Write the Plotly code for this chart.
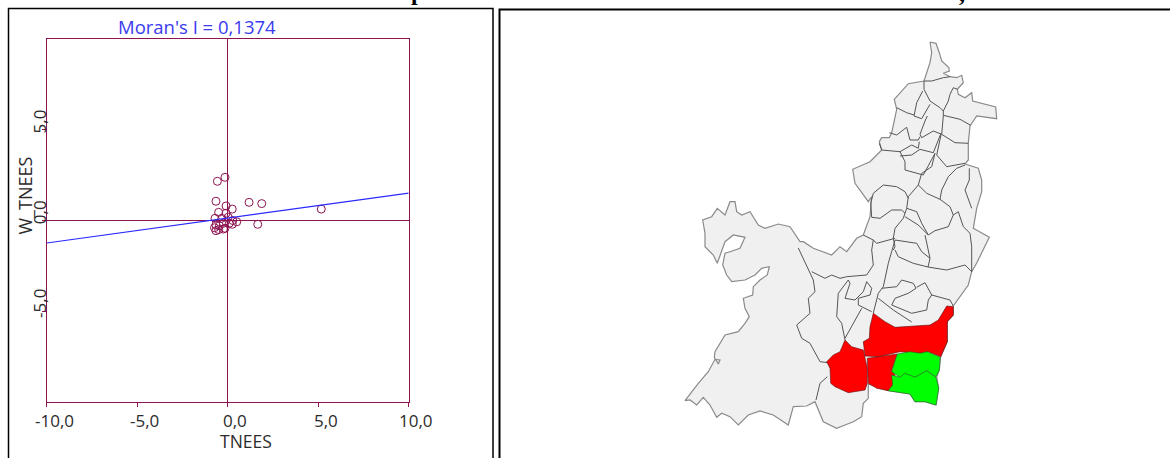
import plotly.graph_objects as go

W, H = 1170, 458
# --- Moran scatter data (TNEES vs W_TNEES) ---
TNEES = [-0.57,-0.15,-0.65,-0.09,0.25,1.18,1.88,5.17,1.66,-0.5,0.5,0.25,-0.7,-0.65,-0.65,-0.46,-0.24,-0.15,0.09,0.03,-0.33,-0.09,-0.5,-0.24,0.28,-0.73]
W_TNEES = [2.16,2.38,1.06,0.80,0.63,1.0,0.93,0.63,-0.21,0.45,-0.07,-0.21,0.12,-0.25,-0.56,-0.29,-0.15,-0.43,-0.15,0.18,0.12,0.4,-0.5,-0.47,0.0,-0.4]
REG_X = [-10, 10]
REG_Y = [-1.24, 1.51]
X_TICKS = [-10, -5, 0, 5, 10]
X_LABELS = ["-10,0", "-5,0", "0,0", "5,0", "10,0"]
Y_TICKS = [-5, 0, 5]
Y_LABELS = ["-5,0", "0,0", "5,0"]

# --- Map geometry (map units) ---
OUTLINE = [(930,42),(936,43.3),(939.3,52.7),(941.7,61),(949,67.7),(949.3,71),(943.3,73.3),(950,76.7),(956.7,77.7),(961.7,75.3),(963.3,82.7),(957.3,89.3),(958.3,94.3),(965,97.7),(971.7,92.7),(972.7,101),(995.7,107),(996.7,118.7),(976.7,116),(970,126),(968.3,142.7),(968.3,150),(968.3,160),(965,164),(978.3,168.3),(981.7,180),(981.7,191.7),(976.7,208.3),(973.3,228.3),(989.3,237.3),(983.3,250),(976.7,263),(971.7,271.7),(968.3,285),(953.3,306),(953.3,315),(947.3,321.7),(947.3,341.7),(940.7,356.7),(939.3,370),(936.7,377.3),(938.7,388.3),(936,405),(925,401.7),(915,401.7),(910,394),(888.3,390.7),(868.3,384),(868.3,398.3),(863.3,403.3),(861.7,416.7),(853.3,421.7),(845,425),(836.7,428.3),(823.3,421.7),(820,413.3),(815,401.7),(806.7,406),(793.3,406.7),(788.3,425),(780,419.3),(773.3,415),(760,411),(748.3,415),(738.3,425),(730,416.7),(721.7,413.3),(716.7,417.3),(710,405),(703.3,397.3),(696.7,405),(690,400),(685,400.7),(698.3,383.3),(708.3,371.7),(715,359.3),(720,360),(718.3,364),(714.3,357.3),(715,351.7),(725,335),(738.3,331.7),(745,323.3),(749.3,316.7),(745,308.3),(743.3,298.3),(752.7,295),(753.3,286.7),(760,280),(767.3,275),(769.3,266.7),(761.7,268.3),(755,275),(745,280),(731.7,281.7),(726.7,275),(722.7,265),(725,253.3),(730,251.7),(740,248.3),(745,237.3),(733.3,235),(725,241.7),(721.7,251.7),(717.3,263.3),(713.3,255),(705,246.7),(705,233.3),(702.7,220),(711.7,216.7),(717.3,208.3),(725,215),(730,201.7),(735,201.7),(736.7,211.7),(741.7,215),(750,211.7),(758.3,225),(765,228.3),(778.3,224),(790,226.7),(800,241.7),(803.3,241.7),(813.3,248.3),(831.7,255),(840,246.7),(846.7,251.7),(856.7,238.3),(863.3,235),(870,216.7),(871.7,196.7),(868.3,201.7),(855,183.3),(852.7,169.3),(870,161.7),(881.7,150),(879.3,141.7),(881.7,137.7),(889.3,137.7),(891.7,132.7),(896.7,109.3),(894.3,99.3),(908.3,83.7),(924,81),(930,62.7),(931.7,52.7)]

BORDERS = [
 [(924,81),(931.7,81),(943.3,77.7),(950,76.7)],
 [(924,81),(924,89.3),(930,101),(940,107.7),(943.3,111)],
 [(957.3,89.3),(953.3,87.7),(950,94.3),(948.3,101),(943.3,111),(943.3,116)],
 [(922.7,91),(916.7,102.7),(914,116),(921.7,118.7),(930,104.3)],
 [(896.7,107.7),(906.7,112.7),(914,115)],
 [(943.3,115.3),(960,119.3),(970.7,125.3)],
 [(927.3,116),(925,121),(920,134.3),(921.7,137.7),(933.3,131),(941.7,134.3),(943.3,116)],
 [(941.7,134.3),(955,142.7),(968.3,143.3)],
 [(889.3,132.7),(896.7,135),(906.7,127.3),(910,140),(918.3,140),(920,136.7)],
 [(879.3,143.3),(881.7,150),(900,151.7),(911.7,145),(918.3,148.3),(919.3,141.7)],
 [(900,151.7),(905,161.7),(905,170),(923.3,175),(935,153.3)],
 [(900,156),(911.7,155),(920,149.3),(933.3,152.7),(941,133.3)],
 [(941,135),(936.7,155),(946.7,166.7),(965,163.3)],
 [(935,153.3),(931.7,166.7),(921.7,173.3),(918.3,185),(908.3,196.7),(906.7,208.3),(903.3,218.3),(895,228.3),(893.3,238.3),(895,246.7),(893.3,250)],
 [(918.3,185),(926.7,193.3),(940,199.3),(950,206.7),(953.3,215),(948.3,226.7),(935,230.7),(928.3,235),(921.7,223.3),(916.7,211.7),(906.7,208.3)],
 [(905,216.7),(918.3,225),(928.3,235)],
 [(940,199.3),(941.7,190),(948.3,176.7),(956.7,168.3),(965,165)],
 [(969.3,168.3),(969.3,180),(965,190),(970,203.3),(971.7,208.3)],
 [(953.3,215),(958.3,211.7),(963.3,226.7),(970,233.3),(971.7,246.7),(972,262),(971.7,271.7)],
 [(883.3,185),(873.3,193.3),(870.7,203.3),(871.7,217.3),(880,218.3),(891.7,210),(901.7,210),(905,213.3)],
 [(883.3,185),(896.7,186.7),(905,191.7),(908.3,198.3)],
 [(863.3,235),(873.3,240),(876.7,243.3),(888.3,240),(895,238.3)],
 [(873.3,240),(871.7,250),(873.3,265),(866.7,275),(846.7,276.7),(840,278.3),(831.7,275),(825,278.3),(811.7,271.7)],
 [(798.3,248),(813.3,280),(815,291.7),(808.3,298.3),(810,313.3),(796.7,325),(801.7,338.3),(810,343.3),(820,361.7),(828.3,362.7)],
 [(827.3,376.7),(820,383.3),(816,400)],
 [(848.3,280),(838.3,293.3),(836.7,316.7),(841.7,323.3),(845,340)],
 [(848.3,280),(850,283.3),(845,298.3),(855,300),(863.3,291.7),(866.7,281.7),(871.7,288.3),(870,295),(858.3,298.3),(858.3,305),(871.7,311.7)],
 [(861.7,308.3),(853.3,323.3),(845,338.3)],
 [(895,240),(888.3,263.3),(883.3,286.7),(878.3,293.3),(873.3,313)],
 [(895,240),(916.7,243.3),(921.7,251.7),(930,258.3),(928,267),(913.3,263.3),(898.3,256.7),(895,250)],
 [(930,258.3),(925,235)],
 [(928,267),(946.7,270),(965,265),(971.7,271.7)],
 [(881.7,288.3),(896.7,286.7),(901.7,280),(913.3,283.3),(916,288.3),(908.3,293.3),(895,298.3),(891.7,305),(911.7,313.3),(926.7,310),(928.3,300),(931.7,295),(925,282.7),(916.7,287.3)],
 [(931.7,295),(950,300),(953.3,306)],
 [(878.3,298.3),(893.3,310),(911.7,322)],
]

RED_EAST = [(873.3,313.3),(885,321.7),(895,327.3),(930,325),(938.3,320),(946.7,306),(953.3,306.7),(953.3,315),(947.3,321.7),(947.3,341.7),(940.7,356.7),(928.3,351.7),(920,353.3),(900,351.7),(878.3,356.7),(865,356),(863.3,341.7),(869.3,338.3),(870,326.7)]
RED_WEST = [(845,340),(851.7,346.7),(863.3,350),(867.3,368.3),(867.3,383.3),(865,390),(848.3,392.7),(835,386.7),(830.7,383.3),(830,368.3),(826.7,361.7),(833.3,355),(840,351.7)]
RED_MID = [(867.3,358.3),(878.3,356.7),(897.3,354),(891.7,370),(895,375),(892.7,385),(888.3,390.7),(876.7,388.3),(868.3,383.3)]
GREEN_N = [(897.3,354),(910,351.7),(920,353.3),(927.3,351.7),(940,357.3),(939.3,370),(936,376.7),(926.7,370.7),(915,377.3),(905,373.3),(900,377.3),(891.7,371.7)]
GREEN_S = [(891.7,375),(900,377.3),(905,373.3),(915,377.3),(926.7,370.7),(936,377.3),(938.7,388.3),(936,405),(925,401.7),(915,401.7),(910,394),(888.3,390.7),(892.7,385)]

AXIS_COL = "#8c1250"
TXT = "#2b2b2b"
FONT = "Open Sans"

def xs(p): return [a for a, _ in p]
def ys(p): return [b for _, b in p]

fig = go.Figure()

def poly(p, fill, line, lw):
    c = p + [p[0]]
    fig.add_trace(go.Scatter(x=xs(c), y=ys(c), xaxis="x2", yaxis="y2", mode="lines",
                             fill="toself", fillcolor=fill, line=dict(color=line, width=lw),
                             hoverinfo="skip", showlegend=False))

poly(OUTLINE, "#f0f0f0", "#8a8a8a", 1.2)
for b in BORDERS:
    fig.add_trace(go.Scatter(x=xs(b), y=ys(b), xaxis="x2", yaxis="y2", mode="lines",
                             line=dict(color="#555555", width=1), hoverinfo="skip", showlegend=False))
for p in (RED_EAST, RED_WEST, RED_MID):
    poly(p, "#ff0000", "#5a1010", 0.6)
for p in (GREEN_N, GREEN_S):
    poly(p, "#00ff00", "#1c6a1c", 0.6)

fig.add_trace(go.Scatter(x=TNEES, y=W_TNEES, mode="markers", showlegend=False,
                         marker=dict(symbol="circle-open", size=8, color=AXIS_COL, line=dict(width=1, color=AXIS_COL))))
fig.add_trace(go.Scatter(x=REG_X, y=REG_Y, mode="lines", showlegend=False,
                         line=dict(color="#2a2aff", width=1.2)))

px = lambda v: v / W
py = lambda v: 1 - v / H

def label(text, x, y, size, color=TXT, family=FONT, angle=0, yanchor="middle"):
    return dict(text=text, x=px(x), y=py(y), xref="paper", yref="paper", showarrow=False, textangle=angle,
                xanchor="center", yanchor=yanchor, font=dict(family=family, size=size, color=color))

ann = [
    label("Moran's I = 0,1374", 197, 26, 18.5, color="#3a3af0"),
    label("TNEES", 246, 441, 17.5),
    label("W_TNEES", 24.5, 195, 18, angle=-90),
    label("<b>p</b>", 417, 7, 24, color="#000000", family="Liberation Serif", yanchor="bottom"),
    label("<b>,</b>", 962, 8, 24, color="#000000", family="Liberation Serif", yanchor="bottom"),
]
for v, t in zip(Y_TICKS, Y_LABELS):
    ann.append(dict(text=t, x=-10, y=v, xref="x", yref="y", xanchor="center", yanchor="middle", yshift=8, xshift=-7,
                    showarrow=False, textangle=-90, font=dict(family=FONT, size=17, color=TXT)))
for v, t in zip(X_TICKS, X_LABELS):
    ann.append(dict(text=t, x=v, y=py(420), xref="x", yref="paper", xanchor="center", yanchor="middle", xshift=7.5,
                    showarrow=False, font=dict(family=FONT, size=17, color=TXT)))

frames = []
for x0, x1, y0, lw in ((8.5, 493, 8.5, 1.5), (499.5, 1175, 9.5, 2)):
    frames.append(dict(type="rect", xref="paper", yref="paper", x0=px(x0), x1=px(x1), y0=py(y0), y1=py(H + 6),
                       line=dict(color="#000000", width=lw), fillcolor="rgba(0,0,0,0)"))

fig.update_layout(
    width=W, height=H, margin=dict(l=0, r=0, t=0, b=0, autoexpand=False), paper_bgcolor="white", plot_bgcolor="rgba(0,0,0,0)",
    showlegend=False, annotations=ann, shapes=frames,
    xaxis=dict(domain=[px(46.7), px(408.7)], range=[-10, 10], tickvals=X_TICKS, showticklabels=False, automargin=False,
               ticks="outside", ticklen=4, tickcolor=AXIS_COL, tickwidth=1.4,
               showgrid=False, zeroline=True, zerolinecolor=AXIS_COL, zerolinewidth=1.4,
               showline=True, mirror=True, linecolor=AXIS_COL, linewidth=1.4, anchor="y"),
    yaxis=dict(domain=[py(402), py(39)], range=[-10, 10], tickvals=Y_TICKS, showticklabels=False, automargin=False,
               ticks="outside", ticklen=4, tickcolor=AXIS_COL, tickwidth=1.4,
               showgrid=False, zeroline=True, zerolinecolor=AXIS_COL, zerolinewidth=1.4,
               showline=True, mirror=True, linecolor=AXIS_COL, linewidth=1.4, anchor="x"),
    xaxis2=dict(domain=[0, 1], range=[0, W], visible=False, anchor="y2", automargin=False),
    yaxis2=dict(domain=[0, 1], range=[H, 0], visible=False, anchor="x2", automargin=False),
)
fig.write_html("out.html", config={"displayModeBar": False},
               post_script="document.body.style.margin='0';window.dispatchEvent(new Event('resize'));")
